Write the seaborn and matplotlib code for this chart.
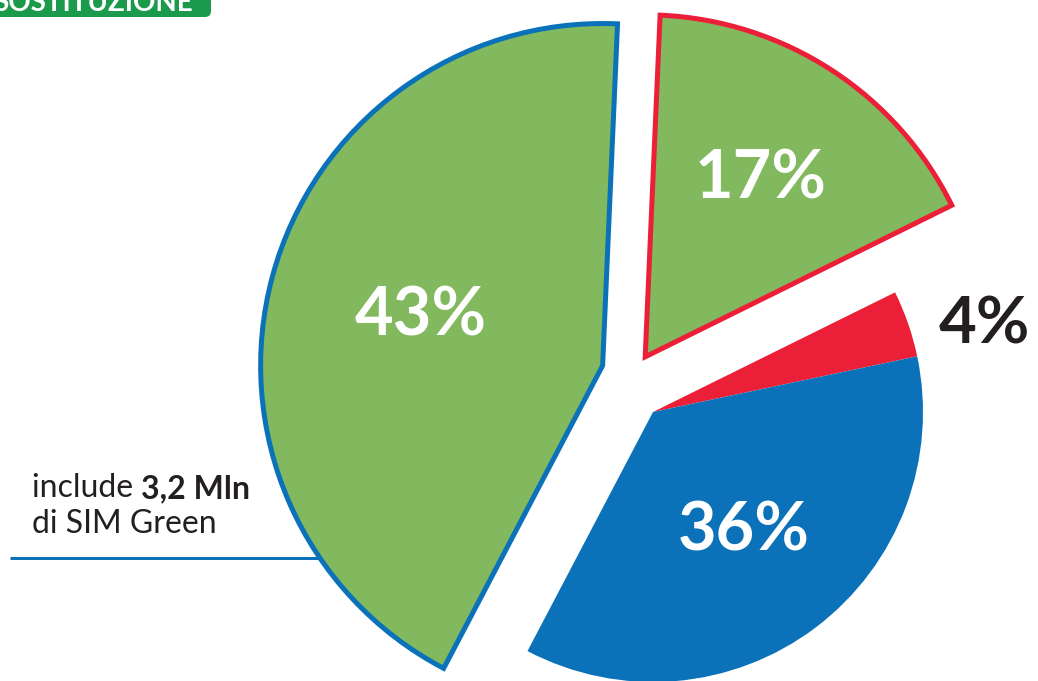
import numpy as np
import matplotlib
matplotlib.use("Agg")
import matplotlib.pyplot as plt
import seaborn as sns
from matplotlib.patches import FancyBboxPatch

# ---- data ----
slice_labels = ["17%", "4%", "36%", "43%"]
shares = [17, 4, 36, 43]
fill_colors = ["#82B85E", "#EC1F38", "#0B72B9", "#82B85E"]
edge_colors = ["#EC1F38", "none", "none", "#0B72B9"]
group = ["green", "rb", "rb", "green"]
note_regular = "include "
note_bold = "3,2 Mln"
note_line2 = "di SIM Green"
tag_text = "SOSTITUZIONE"

sns.set_theme(style="white")
plt.rcParams["font.family"] = ["Lato", "DejaVu Sans"]

W, H = 1038, 681
fig = plt.figure(figsize=(W / 100, H / 100), dpi=100)
fig.patch.set_facecolor("white")
ax = fig.add_axes([0, 0, 1, 1])

px = 72 / 100  # points per pixel

# green slices (larger radius, exploded; explode is in data units = pixels)
wg, _ = ax.pie(shares, colors=fill_colors, startangle=87.5, counterclock=False,
               radius=342, center=(634, H - 374), explode=[20.5, 0, 0, 32.5],
               wedgeprops=dict(linewidth=5 * px, joinstyle="miter"))
# red / blue slices (smaller radius)
wr, _ = ax.pie(shares, colors=fill_colors, startangle=87.5, counterclock=False,
               radius=270, center=(653, H - 412),
               wedgeprops=dict(linewidth=0))

label_frac = [0.62, 1.12, 0.555, 0.55]
for i in range(len(shares)):
    if group[i] == "green":
        wr[i].set_visible(False)
        w = wg[i]
        w.set_edgecolor(edge_colors[i])
    else:
        wg[i].set_visible(False)
        w = wr[i]
        w.set_edgecolor("none")
    mid = np.deg2rad((w.theta1 + w.theta2) / 2)
    cx, cy = w.center
    r = w.r * label_frac[i]
    x, y = cx + r * np.cos(mid), cy + r * np.sin(mid)
    if group[i] == "rb" and label_frac[i] > 1:
        ax.annotate(slice_labels[i], xy=(x, y), xytext=(0, -12 * px),
                    textcoords="offset points", ha="left", va="center",
                    color="#231F20", fontsize=47, fontweight="bold")
    else:
        ax.text(x, y, slice_labels[i], ha="center", va="center", color="white",
                fontsize=48, fontweight="bold")

# annotation
t1 = ax.text(32, H - 497, note_regular, fontsize=23, color="#231F20",
             ha="left", va="baseline")
ax.annotate(note_bold, xy=(1, 0), xycoords=t1, fontsize=23, fontweight="bold",
            color="#231F20", ha="left", va="bottom")
ax.text(32, H - 533, note_line2, fontsize=23, color="#231F20",
        ha="left", va="baseline")
ax.plot([10, 340], [H - 558, H - 558], color="#0B72B9", lw=3 * px, zorder=0.5,
        solid_capstyle="butt")

# top-left tag
ax.add_patch(FancyBboxPatch((-30, H - 17), 241, 60,
                            boxstyle="round,pad=0,rounding_size=6",
                            fc="#1B9A4B", ec="none", clip_on=False, zorder=3))
ax.text(193, H - 11, tag_text, ha="right", va="baseline", color="white",
        fontsize=20, fontweight="bold", zorder=4)

ax.set_xlim(0, W)
ax.set_ylim(0, H)
ax.set_aspect("equal")
ax.axis("off")

fig.savefig("out.png", dpi=100, facecolor="white")
